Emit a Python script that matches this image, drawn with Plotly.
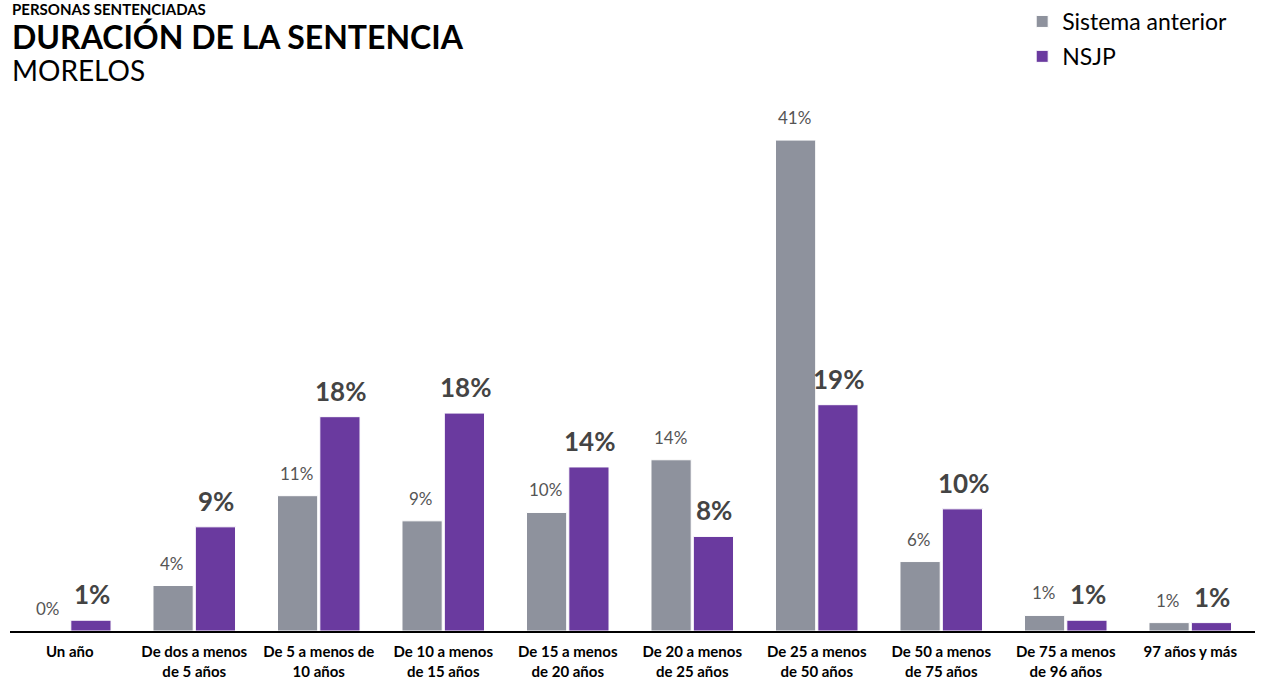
import plotly.graph_objects as go

# Categories (duration of the sentence)
categorias = [
    "Un año",
    "De dos a menos<br>de 5 años",
    "De 5 a menos de<br>10 años",
    "De 10 a menos<br>de 15 años",
    "De 15 a menos<br>de 20 años",
    "De 20 a menos<br>de 25 años",
    "De 25 a menos<br>de 50 años",
    "De 50 a menos<br>de 75 años",
    "De 75 a menos<br>de 96 años",
    "97 años y más",
]

# Percentages
sistema_anterior = [0, 3.8, 11.3, 9.2, 9.9, 14.3, 41, 5.8, 1.3, 0.7]
nsjp = [0.9, 8.7, 17.9, 18.2, 13.7, 7.9, 18.9, 10.2, 0.9, 0.7]

GRIS = "#8e929d"
MORADO = "#6a3a9f"
FONT = "Lato"

fig = go.Figure()

fig.add_trace(go.Bar(
    x=categorias,
    y=sistema_anterior,
    name="Sistema anterior",
    legendgroup="a",
    marker=dict(color=GRIS, line=dict(color="white", width=1)),
    hoverinfo="skip",
))

fig.add_trace(go.Bar(
    x=categorias,
    y=nsjp,
    name="NSJP",
    legendgroup="b",
    marker=dict(color=MORADO, line=dict(color="white", width=1)),
    hoverinfo="skip",
))

# value labels over each bar
for cat, v in zip(categorias, sistema_anterior):
    fig.add_annotation(x=cat, y=v, text=f"{v:.0f}%", showarrow=False,
                       xshift=-22, yshift=10, yanchor="bottom",
                       font=dict(family=FONT, size=17, color="#555555"))
for cat, v in zip(categorias, nsjp):
    fig.add_annotation(x=cat, y=v, text=f"<b>{v:.0f}%</b>", showarrow=False,
                       xshift=22, yshift=8, yanchor="bottom",
                       font=dict(family=FONT, size=26, color="#444444"))

# header texts (plot area spans y 0..631 px)
def py(px):
    return (631 - px) / 631

fig.add_annotation(text="<b>PERSONAS SENTENCIADAS</b>", x=0, xref="paper", xanchor="left",
                   y=py(9), yref="paper", yanchor="middle", showarrow=False,
                   font=dict(family=FONT, size=15, color="black"))
fig.add_annotation(text="<b>DURACIÓN DE LA SENTENCIA</b>", x=0, xref="paper", xanchor="left",
                   y=py(36), yref="paper", yanchor="middle", showarrow=False,
                   font=dict(family=FONT, size=32, color="black"))
fig.add_annotation(text="MORELOS", x=0, xref="paper", xanchor="left",
                   y=py(70), yref="paper", yanchor="middle", showarrow=False,
                   font=dict(family=FONT, size=28, color="black"))

fig.update_layout(
    width=1267,
    height=679,
    margin=dict(l=10, r=12, t=0, b=48),
    paper_bgcolor="white",
    plot_bgcolor="white",
    barmode="group",
    bargap=0.32,
    bargroupgap=0.05,
    font=dict(family=FONT, color="black"),
    showlegend=True,
    legend=dict(
        x=0.813, xanchor="left", y=py(0), yanchor="top",
        font=dict(family=FONT, size=23, color="black"),
        tracegroupgap=2,
        itemwidth=30,
        bgcolor="rgba(0,0,0,0)",
    ),
    xaxis=dict(
        range=[-0.48, 9.52],
        automargin=False,
        showline=True, linecolor="black", linewidth=2,
        showgrid=False, ticks="",
        ticklabelstandoff=6,
        tickfont=dict(family=FONT, size=15, color="black", weight="bold"),
        fixedrange=True,
    ),
    yaxis=dict(
        range=[0, 52.7], visible=False, showgrid=False, fixedrange=True,
    ),
)

# the page body has a default 8px margin; drop it so the figure fills the window
fig.write_html("out.html", config={"displayModeBar": False},
               post_script="document.body.style.margin='0';")
